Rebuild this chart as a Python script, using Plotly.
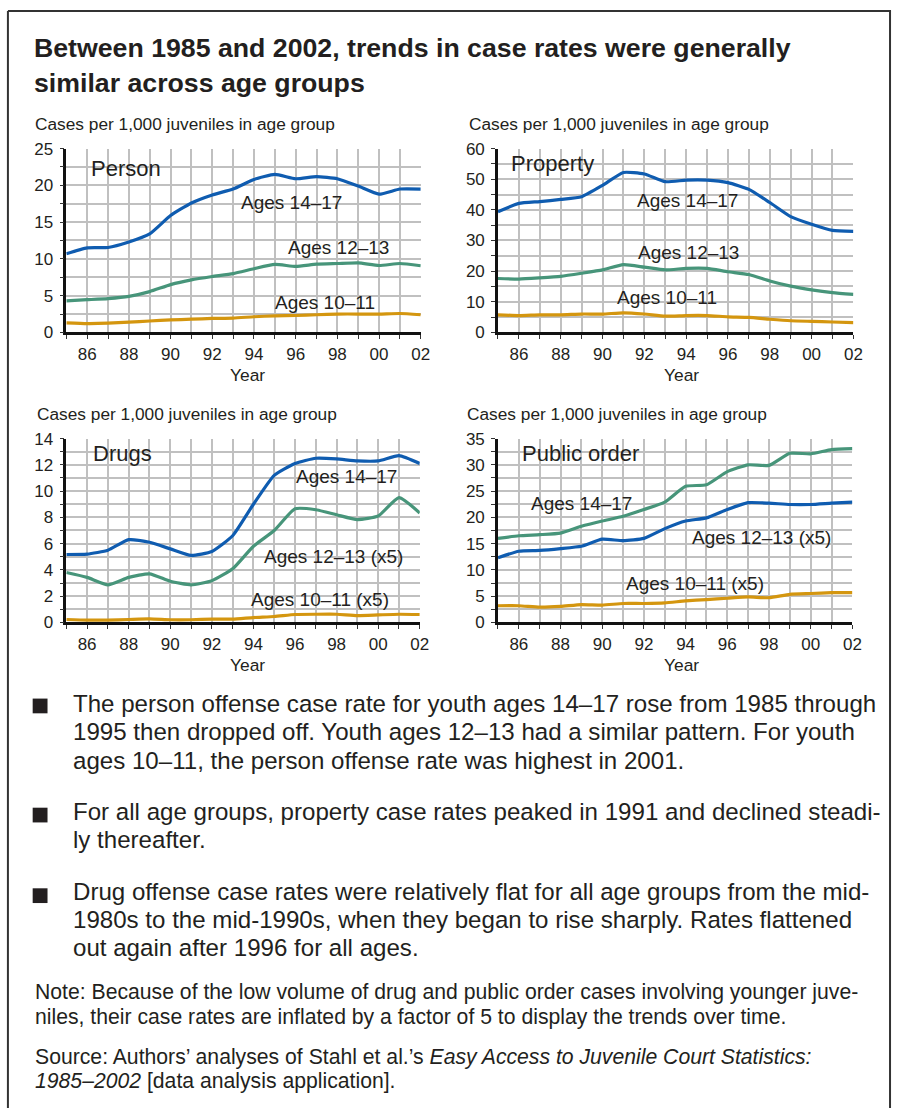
import plotly.graph_objects as go

W, H = 902, 1118
FONT = "Liberation Sans, Arial, Helvetica, sans-serif"
TXT = "#231f20"
BLUE = "#0f5cb0"
GREEN = "#47957a"
ORANGE = "#d4960f"
GRID = "#c0c0c0"

years = list(range(1985, 2003))
year_labels = [f"{y % 100:02d}" if y % 2 == 0 else "" for y in years]

person_1417 = [10.7, 11.5, 11.55, 12.3, 13.4, 15.9, 17.6, 18.7, 19.5, 20.8, 21.5, 20.9, 21.2, 20.9, 19.9, 18.8, 19.5, 19.5]
person_1213 = [4.3, 4.45, 4.6, 4.9, 5.55, 6.5, 7.15, 7.6, 8.0, 8.66, 9.24, 8.97, 9.28, 9.37, 9.46, 9.1, 9.37, 9.06]
person_1011 = [1.3, 1.2, 1.25, 1.4, 1.55, 1.7, 1.8, 1.9, 1.95, 2.13, 2.26, 2.3, 2.4, 2.5, 2.5, 2.5, 2.57, 2.4]

property_1417 = [39.4, 42.1, 42.7, 43.4, 44.3, 48.0, 52.2, 51.7, 49.2, 49.7, 49.7, 48.9, 46.7, 42.4, 37.8, 35.3, 33.3, 33.0]
property_1213 = [17.6, 17.4, 17.8, 18.3, 19.3, 20.4, 22.1, 21.3, 20.4, 20.9, 20.9, 19.8, 18.9, 16.8, 15.1, 13.9, 13.0, 12.4]
property_1011 = [5.75, 5.5, 5.75, 5.75, 6.0, 6.0, 6.4, 6.0, 5.3, 5.5, 5.5, 5.1, 4.9, 4.3, 3.8, 3.6, 3.4, 3.2]

drugs_1417 = [5.17, 5.2, 5.5, 6.3, 6.1, 5.6, 5.1, 5.4, 6.6, 9.0, 11.2, 12.1, 12.5, 12.45, 12.3, 12.3, 12.7, 12.1]
drugs_1213_x5 = [3.8, 3.43, 2.86, 3.43, 3.7, 3.13, 2.86, 3.18, 4.08, 5.8, 7.0, 8.65, 8.58, 8.2, 7.83, 8.1, 9.5, 8.33]
drugs_1011_x5 = [0.22, 0.17, 0.17, 0.22, 0.27, 0.2, 0.2, 0.25, 0.25, 0.37, 0.45, 0.6, 0.62, 0.62, 0.52, 0.57, 0.62, 0.6]

public_1417 = [12.3, 13.55, 13.7, 14.05, 14.5, 15.85, 15.55, 16.0, 17.85, 19.3, 19.9, 21.5, 22.8, 22.7, 22.45, 22.45, 22.7, 22.9]
public_1213_x5 = [16.0, 16.5, 16.7, 17.0, 18.3, 19.3, 20.2, 21.5, 22.9, 25.9, 26.2, 28.7, 30.0, 29.9, 32.2, 32.1, 32.9, 33.1]
public_1011_x5 = [3.17, 3.17, 2.9, 3.05, 3.4, 3.3, 3.6, 3.6, 3.7, 4.1, 4.35, 4.6, 4.85, 4.7, 5.35, 5.5, 5.65, 5.65]

panel_names = ["Person", "Property", "Drugs", "Public order"]
y_max = [25, 60, 14, 35]
y_major = [5, 10, 2, 5]
y_minor = [2.5, 5, 1, 2.5]

labels = [
    [("Ages 14–17", 1993.28, 17.6), ("Ages 12–13", 1995.55, 11.55), ("Ages 10–11", 1994.91, 4.13)],
    [("Ages 14–17", 1991.53, 42.95), ("Ages 12–13", 1991.58, 26.2), ("Ages 10–11", 1990.61, 11.3)],
    [("Ages 14–17", 1995.93, 11.14), ("Ages 12–13 (x5)", 1994.42, 5.0), ("Ages 10–11 (x5)", 1993.79, 1.77)],
    [("Ages 14–17", 1986.51, 22.7), ("Ages 12–13 (x5)", 1994.2, 16.16), ("Ages 10–11 (x5)", 1991.03, 7.34)],
]
name_pos = [(1986.1, 22.3), (1985.55, 55.0), (1986.17, 12.9), (1986.06, 32.2)]

series = [
    (person_1417, person_1213, person_1011),
    (property_1417, property_1213, property_1011),
    (drugs_1417, drugs_1213_x5, drugs_1011_x5),
    (public_1417, public_1213_x5, public_1011_x5),
]

# plot boxes in page pixels: (x0, x1, y_top, y_bottom)
boxes = [(67, 425, 142, 329), (503, 862, 142, 329), (67, 424, 437, 624), (503, 861, 437, 624)]


def px(x):
    return x / W


def py(y):
    return 1 - y / H


fig = go.Figure()
layout = dict(
    width=W, height=H, margin=dict(l=0, r=0, t=0, b=0),
    paper_bgcolor="white", plot_bgcolor="white", showlegend=False,
    font=dict(family=FONT, color=TXT),
)
annotations = []
shapes = []

for i in range(4):
    n = i + 1
    sfx = "" if n == 1 else str(n)
    x0, x1, yt, yb = boxes[i]
    b1417, b1213, b1011 = series[i]
    for vals, col in [(b1011, ORANGE), (b1213, GREEN), (b1417, BLUE)]:
        fig.add_trace(go.Scatter(
            x=years, y=vals, mode="lines", xaxis="x" + sfx, yaxis="y" + sfx,
            line=dict(color=col, width=3.2, shape="spline", smoothing=0.5),
            hoverinfo="skip",
        ))
    nt = int(round(y_max[i] / y_minor[i]))
    yv = [k * y_minor[i] for k in range(nt + 1)]
    yt_text = [(f"{v:g}" if abs(v / y_major[i] - round(v / y_major[i])) < 1e-9 else "") for v in yv]
    layout["xaxis" + sfx] = dict(
        domain=[px(x0), px(x1)], anchor="y" + sfx, range=[1985, 2002],
        tickmode="array", tickvals=years, ticktext=year_labels,
        showgrid=True, gridcolor=GRID, gridwidth=1.5, zeroline=False,
        showline=True, linecolor="#111", linewidth=2.5,
        ticks="outside", ticklen=4, tickwidth=1.2, tickcolor="#333",
        tickfont=dict(size=17, color=TXT, family=FONT), fixedrange=True,
    )
    layout["yaxis" + sfx] = dict(
        domain=[py(yb), py(yt)], anchor="x" + sfx, range=[0, y_max[i]],
        tickmode="array", tickvals=yv, ticktext=yt_text,
        showgrid=True, gridcolor=GRID, gridwidth=1.5, zeroline=False,
        showline=True, linecolor="#111", linewidth=2.5,
        ticks="outside", ticklen=4, tickwidth=1.2, tickcolor="#333",
        ticklabelstandoff=3,
        tickfont=dict(size=17, color=TXT, family=FONT), fixedrange=True,
    )
    annotations.append(dict(
        x=name_pos[i][0], y=name_pos[i][1], xref="x" + sfx, yref="y" + sfx,
        text=panel_names[i], showarrow=False, xanchor="left", yanchor="middle",
        font=dict(size=22, color=TXT, family=FONT),
    ))
    for t, lx, ly in labels[i]:
        annotations.append(dict(
            x=lx, y=ly, xref="x" + sfx, yref="y" + sfx, text=t, showarrow=False,
            xanchor="left", yanchor="middle", font=dict(size=19, color=TXT, family=FONT),
        ))

ytitle_pos = [(33, 117), (472, 117), (35, 412), (470, 412)]
for (tx, ty) in ytitle_pos:
    annotations.append(dict(
        x=px(tx), y=py(ty), xref="paper", yref="paper", text="Cases per 1,000 juveniles in age group",
        showarrow=False, xanchor="left", yanchor="middle", font=dict(size=17.3, color=TXT, family=FONT),
    ))
xtitle_pos = [(250, 372), (688, 372), (250, 667), (688, 667)]
for (tx, ty) in xtitle_pos:
    annotations.append(dict(
        x=px(tx), y=py(ty), xref="paper", yref="paper", text="Year",
        showarrow=False, xanchor="center", yanchor="middle", font=dict(size=17.4, color=TXT, family=FONT),
    ))

title_lines = ["Between 1985 and 2002, trends in case rates were generally", "similar across age groups"]
for t, ty in zip(title_lines, [40, 75]):
    annotations.append(dict(
        x=px(32), y=py(ty), xref="paper", yref="paper", text=f"<b>{t}</b>",
        showarrow=False, xanchor="left", yanchor="middle", font=dict(size=26.7, color=TXT, family=FONT),
    ))

bullet_lines = [
    ("The person offense case rate for youth ages 14–17 rose from 1985 through", 708),
    ("1995 then dropped off. Youth ages 12–13 had a similar pattern. For youth", 737),
    ("ages 10–11, the person offense rate was highest in 2001.", 766),
    ("For all age groups, property case rates peaked in 1991 and declined steadi-", 818),
    ("ly thereafter.", 847),
    ("Drug offense case rates were relatively flat for all age groups from the mid-", 900),
    ("1980s to the mid-1990s, when they began to rise sharply. Rates flattened", 928),
    ("out again after 1996 for all ages.", 957),
]
for t, ty in bullet_lines:
    annotations.append(dict(
        x=px(71.5), y=py(ty - 2), xref="paper", yref="paper", text=t,
        showarrow=False, xanchor="left", yanchor="middle", font=dict(size=24.1, color=TXT, family=FONT),
    ))
for by in [709, 820, 902]:
    shapes.append(dict(type="rect", xref="paper", yref="paper", x0=px(33), x1=px(48),
                       y0=py(by + 7.5), y1=py(by - 7.5), fillcolor="#231f20", line=dict(width=0)))

note_lines = [
    ("Note: Because of the low volume of drug and public order cases involving younger juve-", 1002),
    ("niles, their case rates are inflated by a factor of 5 to display the trends over time.", 1027),
    ("Source: Authors’ analyses of Stahl et al.’s <i>Easy Access to Juvenile Court Statistics:</i>", 1068),
    ("<i>1985–2002</i> [data analysis application].", 1093),
]
for t, ty in note_lines:
    annotations.append(dict(
        x=px(33), y=py(ty - 2), xref="paper", yref="paper", text=t,
        showarrow=False, xanchor="left", yanchor="middle", font=dict(size=21.2, color=TXT, family=FONT),
    ))

# frame
frame = dict(color="#333", width=2)
shapes.append(dict(type="line", xref="paper", yref="paper", x0=px(8), x1=px(900), y0=py(2), y1=py(2), line=frame))
shapes.append(dict(type="line", xref="paper", yref="paper", x0=px(8), x1=px(8), y0=py(2), y1=0, line=frame))
shapes.append(dict(type="line", xref="paper", yref="paper", x0=px(899), x1=px(899), y0=py(2), y1=0, line=frame))

layout["annotations"] = annotations
layout["shapes"] = shapes
fig.update_layout(**layout)

fig.write_html("out.html", config={"displayModeBar": False},
               post_script="document.body.style.margin='0';document.body.style.overflow='hidden';")
